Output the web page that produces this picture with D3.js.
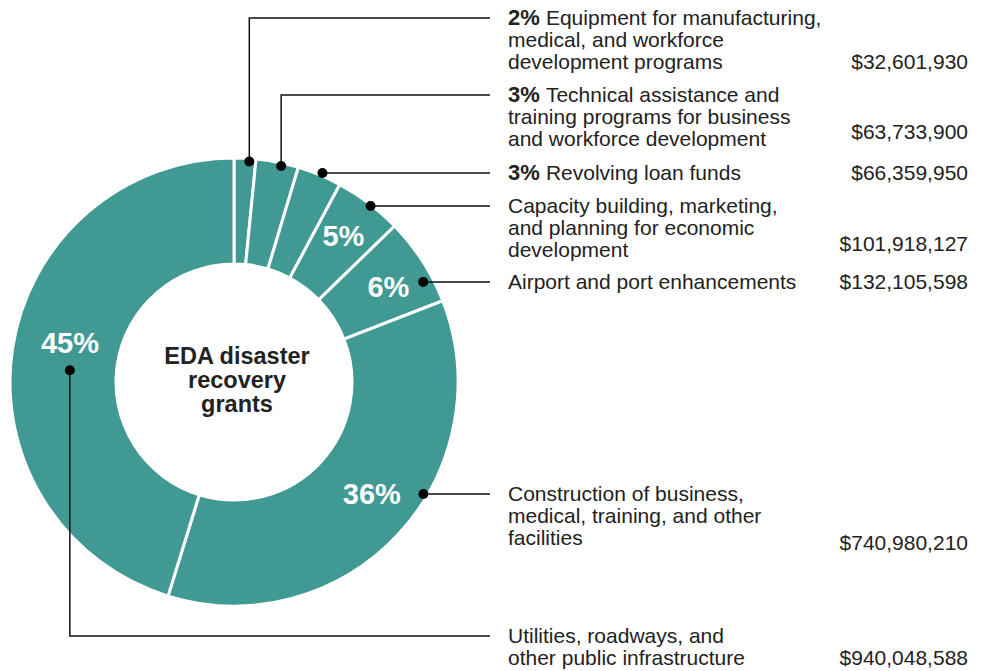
<!DOCTYPE html>
<html>
<head>
<meta charset="utf-8">
<script src="https://cdn.jsdelivr.net/npm/d3@7"></script>
<style>
  body { margin: 0; background: #fff; }
  svg { font-family: "Liberation Sans", Arial, sans-serif; }
</style>
</head>
<body>
<svg width="987" height="671"></svg>
<script>
// data
const categories = [
  ["Equipment for manufacturing,", "medical, and workforce", "development programs"],
  ["Technical assistance and", "training programs for business", "and workforce development"],
  ["Revolving loan funds"],
  ["Capacity building, marketing,", "and planning for economic", "development"],
  ["Airport and port enhancements"],
  ["Construction of business,", "medical, training, and other", "facilities"],
  ["Utilities, roadways, and", "other public infrastructure"]
];
const amounts = [32601930, 63733900, 66359950, 101918127, 132105598, 740980210, 940048588];
const centerTitle = ["EDA disaster", "recovery", "grants"];

// layout (not data)
const cx = 234, cy = 382, rOuter = 224, rInner = 118;
const labelX = 508, valueX = 968, lineEndX = 490, lineH = 22;
// 'up' = vertical to label then right, 'h' = straight right, 'hy' = right from ring at label y, 'down' = down then right
const leader = ["up", "up", "h", "h", "hy", "hy", "down"];
const labelTop = [18, 95, 173, 206, 282, 494, 636];
const pctInside = [false, false, false, true, true, true, true];
const pctNudge = [null, null, null, [1, -3], [3, 2], [6, -11], [14, -13]];
const valueShift = [0, -7, 0, -6, 0, 5, 0];
const teal = "#409993";

const total = d3.sum(amounts);
const fmt = d3.format("$,");
const pct = v => Math.round(v / total * 100) + "%";

const svg = d3.select("svg");
const g = svg.append("g").attr("transform", `translate(${cx},${cy})`);

const pie = d3.pie().sort(null).value(d => d);
const arcs = pie(amounts);
const arc = d3.arc().innerRadius(rInner).outerRadius(rOuter);

g.selectAll("path.slice")
  .data(arcs)
  .join("path")
  .classed("slice", true)
  .attr("d", arc)
  .attr("fill", teal)
  .attr("stroke", "#fff")
  .attr("stroke-width", 3);

// percent labels inside the ring
g.selectAll("text.pct")
  .data(arcs.filter((d, i) => pctInside[i]))
  .join("text")
  .classed("pct", true)
  .attr("x", d => 180 * Math.sin((d.startAngle + d.endAngle) / 2) + pctNudge[d.index][0])
  .attr("y", d => -180 * Math.cos((d.startAngle + d.endAngle) / 2) + pctNudge[d.index][1])
  .attr("text-anchor", "middle")
  .attr("dy", "0.36em")
  .attr("fill", "#fff")
  .attr("font-weight", "bold")
  .attr("font-size", 29)
  .text(d => pct(d.value));

// center title
g.append("text")
  .attr("text-anchor", "middle")
  .attr("font-weight", "bold")
  .attr("font-size", 23.5)
  .attr("fill", "#222")
  .selectAll("tspan")
  .data(centerTitle)
  .join("tspan")
  .attr("x", 3)
  .attr("y", (d, i) => -26 + i * 24 + 8)
  .text(d => d);

// leader points
const pts = arcs.map((d, i) => {
  const a = (d.startAngle + d.endAngle) / 2 + 0.02;
  let r = 221;
  if (leader[i] === "down") {
    r = 166;
    return { x: cx + r * Math.sin(a - 0.02), y: cy - r * Math.cos(a - 0.02) + 13 };
  }
  if (leader[i] === "hy") {
    const r2 = i === 4 ? 214 : 220;
    const dy = labelTop[i] - cy;
    return { x: cx + Math.sqrt(r2 * r2 - dy * dy), y: labelTop[i] };
  }
  if (leader[i] === "h") {
    return { x: cx + r * Math.sin(a), y: labelTop[i] };
  }
  return { x: cx + r * Math.sin(a), y: cy - r * Math.cos(a) };
});

const rows = arcs.map((d, i) => {
  const p = pts[i];
  const y0 = labelTop[i];
  let path;
  if (leader[i] === "up" || leader[i] === "down") {
    path = `M${p.x},${p.y}V${y0}H${lineEndX}`;
  } else {
    path = `M${p.x},${p.y}H${lineEndX}`;
  }
  return { i, p, y0, path };
});

svg.selectAll("path.leader")
  .data(rows)
  .join("path")
  .classed("leader", true)
  .attr("d", d => d.path)
  .attr("fill", "none")
  .attr("stroke", "#111")
  .attr("stroke-width", 1.5);

svg.selectAll("circle.dot")
  .data(rows)
  .join("circle")
  .classed("dot", true)
  .attr("cx", d => d.p.x)
  .attr("cy", d => d.p.y)
  .attr("r", 5)
  .attr("fill", "#000");

// labels
const lab = svg.selectAll("g.label")
  .data(rows)
  .join("g")
  .classed("label", true);

lab.each(function (d) {
  const sel = d3.select(this);
  const lines = categories[d.i];
  const t = sel.append("text")
    .attr("font-size", 21)
    .attr("fill", "#222");
  lines.forEach((line, k) => {
    const ts = t.append("tspan")
      .attr("x", labelX)
      .attr("y", d.y0 + k * lineH)
      .attr("dy", "0.35em");
    if (k === 0 && !pctInside[d.i]) {
      ts.append("tspan").attr("font-weight", "bold").attr("font-size", 22).text(pct(amounts[d.i]) + " ");
      ts.append("tspan").text(line);
    } else {
      ts.text(line);
    }
  });
  sel.append("text")
    .attr("x", valueX)
    .attr("y", d.y0 + (lines.length - 1) * lineH + valueShift[d.i])
    .attr("dy", "0.35em")
    .attr("text-anchor", "end")
    .attr("font-size", 21)
    .attr("fill", "#222")
    .text(fmt(amounts[d.i]));
});
</script>
</body>
</html>
